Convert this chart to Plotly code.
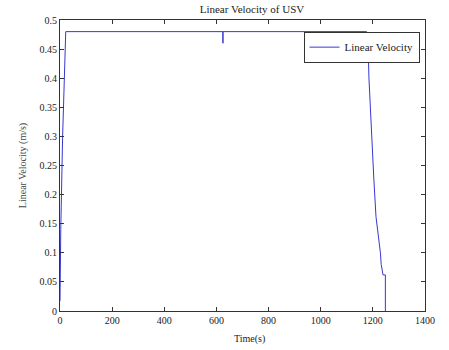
import plotly.graph_objects as go

# Data
time_s = [0, 1, 3, 10, 22, 625, 625, 625, 1176, 1182, 1185, 1195, 1204, 1212, 1216,
          1220, 1223, 1229, 1232, 1239, 1248, 1248]
velocity = [0.017, 0.09, 0.14, 0.30, 0.48, 0.48, 0.46, 0.48, 0.48, 0.455, 0.40, 0.30,
            0.225, 0.162, 0.15, 0.13, 0.122, 0.10, 0.08, 0.062, 0.062, 0.0]

x_ticks = [0, 200, 400, 600, 800, 1000, 1200, 1400]
y_ticks = [0, 0.05, 0.1, 0.15, 0.2, 0.25, 0.3, 0.35, 0.4, 0.45, 0.5]
y_tick_labels = ["0", "0.05", "0.1", "0.15", "0.2", "0.25", "0.3", "0.35", "0.4", "0.45", "0.5"]

font_family = "Liberation Serif, Times New Roman, serif"

fig = go.Figure()
fig.add_trace(go.Scatter(
    x=time_s, y=velocity, mode="lines", name="Linear Velocity",
    line=dict(color="rgb(55,55,210)", width=1),
))

axis_common = dict(
    showgrid=False, zeroline=False, showline=True, linecolor="#333333", linewidth=1,
    mirror="ticks", ticks="inside", ticklen=4, tickcolor="#333333",
    tickfont=dict(family=font_family, size=10, color="#222222"),
)

fig.update_layout(
    width=449, height=350,
    margin=dict(l=60, r=24, t=20, b=39),
    paper_bgcolor="white", plot_bgcolor="white",
    font=dict(family=font_family, size=10, color="#222222"),
    title=dict(text="Linear Velocity of USV", xref="paper", x=0.526, xanchor="center",
               y=0.985, yanchor="top", font=dict(family=font_family, size=11)),
    xaxis=dict(range=[0, 1400], tickvals=x_ticks, **axis_common),
    yaxis=dict(range=[0, 0.5], tickvals=y_ticks, ticktext=y_tick_labels,
               title=dict(text="Linear Velocity (m/s)", standoff=11,
                          font=dict(family=font_family, size=10, color="#444444")),
               **axis_common),
    legend=dict(x=0.985, y=0.96, xanchor="right", yanchor="top",
                bgcolor="white", bordercolor="#333333", borderwidth=1,
                font=dict(family=font_family, size=11, color="#222222"),
                tracegroupgap=0, itemwidth=30),
    showlegend=True,
    annotations=[dict(text="Time(s)", xref="paper", yref="paper", x=0.518, y=-0.096,
                      xanchor="center", yanchor="middle", showarrow=False,
                      font=dict(family=font_family, size=10, color="#222222"))],
)

fig.write_html("out.html")
